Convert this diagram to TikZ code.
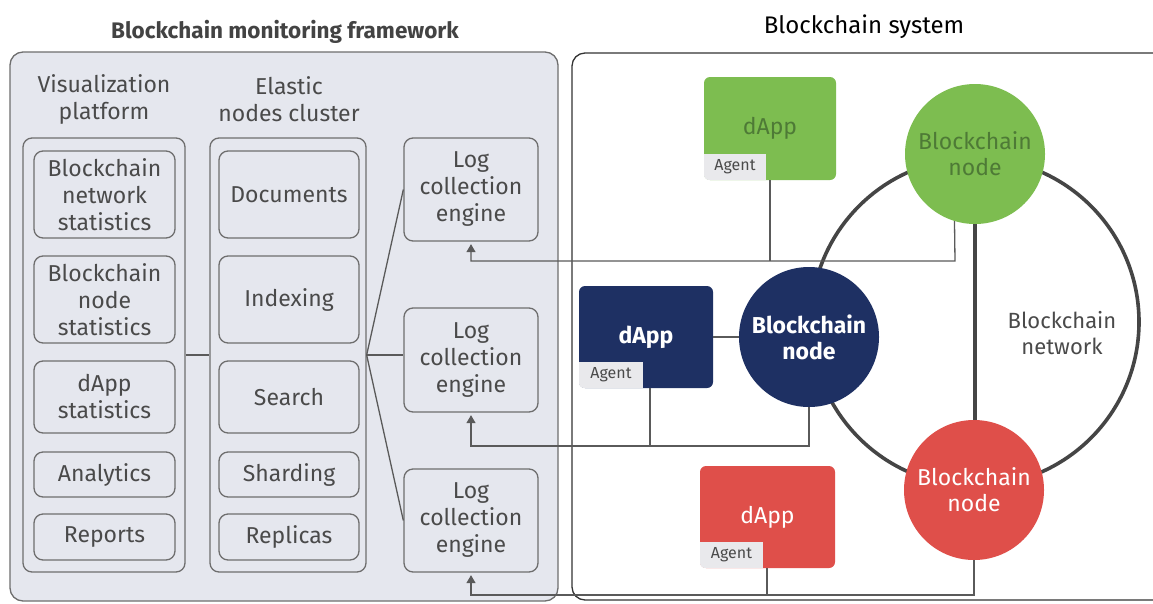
\documentclass[tikz,border=0pt]{standalone}
\usepackage{fontspec}
\setmainfont{Fira Sans}
\usetikzlibrary{arrows.meta}
\definecolor{panel}{HTML}{E5E7EE}
\definecolor{edge}{HTML}{6E6E6E}
\definecolor{ink}{HTML}{4A4A4A}
\definecolor{wire}{HTML}{5A5A5A}
\definecolor{ring}{HTML}{454545}
\definecolor{leaf}{HTML}{7DBD50}
\definecolor{leafink}{HTML}{4E7A36}
\definecolor{navy}{HTML}{1E3063}
\definecolor{coral}{HTML}{DF4F4A}
\definecolor{tabfill}{HTML}{E9E9EC}
\tikzset{
  txt/.style={font=\fontsize{23}{27}\selectfont, text=ink, align=center},
  group/.style={draw=edge, line width=1.3pt, rounded corners=9pt, fill=panel},
  ibox/.style={draw=edge, line width=1.3pt, rounded corners=9pt, fill=panel,
    txt, inner sep=0pt},
  conn/.style={draw=wire, line width=1.3pt},
  arr/.style={conn, -{Triangle[width=9pt,length=8pt]}, shorten >=2.5pt},
  app/.style={rounded corners=6pt, inner sep=0pt, font=\fontsize{23}{27}\selectfont},
  chain/.style={circle, minimum size=140pt, inner sep=0pt, align=center,
    font=\fontsize{23}{26}\selectfont},
  agent/.style={fill=tabfill, inner sep=0pt, minimum height=26pt,
    text=ink, font=\fontsize{16}{18}\selectfont, anchor=south west},
}
\begin{document}
\begin{tikzpicture}[x=1pt,y=-1pt]
\clip (0,0) rectangle (1153,603);
\fill[white] (0,0) rectangle (1153,603);

% ---------- monitoring framework ----------
\node[font=\fontsize{22.5}{26}\selectfont\bfseries, text=ink!90!black] (ttl) at (285,32) {Blockchain monitoring framework};
\draw[draw=edge, line width=1.3pt, rounded corners=13pt, fill=panel] (10,52) rectangle (558,601);

\node[txt] (vph) at (104,99) {Visualization\\platform};
\node[txt] (ench) at (289,99) {Elastic\\nodes cluster};

\node[group, minimum width=162pt, minimum height=434pt, inner sep=0pt] (vp) at (104,355) {};
\node[group, minimum width=156pt, minimum height=434pt, inner sep=0pt] (ec) at (288,355) {};

% visualization items
\node[ibox, minimum width=141pt, minimum height=87pt] (v1) at (104.5,194.5) {Blockchain\\network\\statistics};
\node[ibox, minimum width=141pt, minimum height=87pt] (v2) at (104.5,299.5) {Blockchain\\node\\statistics};
\node[ibox, minimum width=141pt, minimum height=72pt] (v3) at (104.5,397) {dApp\\statistics};
\node[ibox, minimum width=141pt, minimum height=45pt] (v4) at (104.5,474.5) {Analytics};
\node[ibox, minimum width=141pt, minimum height=46pt] (v5) at (104.5,537) {Reports};

% elastic items
\node[ibox, minimum width=140pt, minimum height=87pt] (e1) at (289,194.5) {Documents};
\node[ibox, minimum width=140pt, minimum height=87pt] (e2) at (289,299.5) {Indexing};
\node[ibox, minimum width=140pt, minimum height=72pt] (e3) at (289,397) {Search};
\node[ibox, minimum width=140pt, minimum height=45pt] (e4) at (289,474.5) {Sharding};
\node[ibox, minimum width=140pt, minimum height=46pt] (e5) at (289,537) {Replicas};

% log collection engines
\node[ibox, minimum width=134pt, minimum height=103pt] (log1) at (471,189.5) {Log\\collection\\engine};
\node[ibox, minimum width=134pt, minimum height=104pt] (log2) at (471,360) {Log\\collection\\engine};
\node[ibox, minimum width=134pt, minimum height=103pt] (log3) at (471,520.5) {Log\\collection\\engine};

\draw[conn] (vp) -- (ec);
\draw[conn] (ec.east) -- (log1.west);
\draw[conn] (ec.east) -- (log2.west |- ec.east);
\draw[conn] (ec.east) -- (log3.west);

% ---------- blockchain system ----------
\node[font=\fontsize{24}{27}\selectfont, text=black] (sys) at (864,27) {Blockchain system};
\draw[draw=black!80, line width=1.3pt, rounded corners=13pt] (572,53) rectangle (1185,600);

% network ring and backbone
\draw[ring, line width=3.6pt] (975,322) circle (164pt);
\draw[ring, line width=3.6pt] (975,154) -- (975,490);
\node[text=ink, align=center, font=\fontsize{22}{26}\selectfont] (net) at (1062,333) {Blockchain\\network};

% blockchain nodes
\node[chain, fill=leaf, text=leafink] (gn) at (975,154) {Blockchain\\node};
\node[chain, fill=navy, text=white, font=\fontsize{23}{26}\selectfont\bfseries] (bn) at (809,337) {Blockchain\\node};
\node[chain, fill=coral, text=white] (rn) at (974,490) {Blockchain\\node};

% dApps with agents
\node[app, fill=leaf, text=leafink, minimum width=132pt, minimum height=103pt] (dg) at (770,128.5) {dApp};
\begin{scope}
  \clip[rounded corners=6pt] (dg.south west) rectangle (dg.north east);
  \node[agent, minimum width=62pt] (ag) at (dg.south west) {Agent};
\end{scope}

\node[app, fill=navy, text=white, font=\fontsize{23}{27}\selectfont\bfseries, minimum width=134pt, minimum height=102pt] (db) at (646,337) {dApp};
\begin{scope}
  \clip[rounded corners=6pt] (db.south west) rectangle (db.north east);
  \node[agent, minimum width=64pt] (ab) at (db.south west) {Agent};
\end{scope}

\node[app, fill=coral, text=white, minimum width=135pt, minimum height=102pt] (dr) at (767.5,517) {dApp};
\begin{scope}
  \clip[rounded corners=6pt] (dr.south west) rectangle (dr.north east);
  \node[agent, minimum width=63pt] (ar) at (dr.south west) {Agent};
\end{scope}

% log feeds back to the collection engines
\coordinate (j1) at (955,261);
\coordinate (k1) at (770,261);
\draw[conn] (dg.south -| k1) -- (k1);
\draw[arr] (gn.-107) -- (j1) -| (log1.south);

\draw[conn] (db.east) -- (bn.west);
\coordinate (j2) at (809,446);
\coordinate (k2) at (650,446);
\draw[conn] (db.south -| k2) -- (k2);
\draw[arr] (bn.south) -- (j2) -| (log2.south);

\coordinate (j3) at (974,595);
\coordinate (k3) at (767,595);
\draw[conn] (dr.south -| k3) -- (k3);
\draw[arr] (rn.south) -- (j3) -| (log3.south);
\end{tikzpicture}
\end{document}
